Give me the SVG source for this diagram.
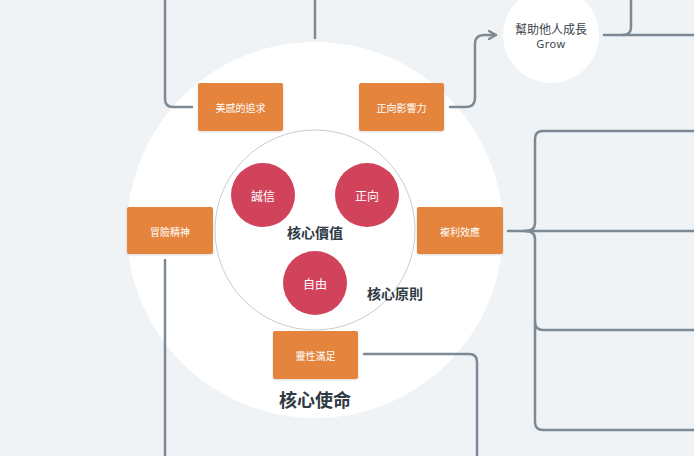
<svg xmlns="http://www.w3.org/2000/svg" width="694" height="456" viewBox="0 0 694 456">
<defs>
<style>
.bg{fill:#eff3f5}
.conn path{fill:none;stroke:#7d8994;stroke-width:2.5;stroke-linecap:round;stroke-linejoin:round}
.box{fill:#e5843e}
.btxt{font-family:"Noto Sans CJK TC","Noto Sans CJK SC",sans-serif;font-size:10px;fill:#ffffff;text-anchor:middle;dominant-baseline:central}
.red{fill:#d1435b}
.rtxt{font-family:"Noto Sans CJK TC","Noto Sans CJK SC",sans-serif;font-size:12px;fill:#ffffff;text-anchor:middle;dominant-baseline:central}
.lbl{font-family:"Noto Sans CJK TC","Noto Sans CJK SC",sans-serif;font-weight:bold;fill:#2f3a44;text-anchor:middle;dominant-baseline:central}
</style>
<marker id="arr" viewBox="0 0 10 10" refX="8" refY="5" markerWidth="4" markerHeight="4" orient="auto" markerUnits="strokeWidth">
<path d="M1,1 L8,5 L1,9" fill="none" stroke="#7d8994" stroke-width="2.2" stroke-linecap="round" stroke-linejoin="round"/>
</marker>
<filter id="sh" x="-10%" y="-10%" width="120%" height="130%">
<feDropShadow dx="0" dy="1" stdDeviation="1" flood-color="#000" flood-opacity="0.15"/>
</filter>
</defs>
<rect class="bg" x="0" y="0" width="694" height="456"/>
<g id="mission">
<circle cx="315" cy="230" r="188" fill="#ffffff"/>
<text class="lbl" x="315" y="399" font-size="18">核心使命</text>
</g>
<g id="principles">
<circle cx="315" cy="230" r="100" fill="#ffffff" stroke="#c9cdd0" stroke-width="1"/>
<text class="lbl" x="395" y="293" font-size="14">核心原則</text>
</g>
<g id="values">
<text class="lbl" x="315" y="232" font-size="14">核心價值</text>
</g>
<g class="conn" id="connectors">
<path d="M165,0 V99 Q165,107 173,107 H192"/>
<path d="M315,0 V38"/>
<path d="M450,107 H466 Q475,107 475,98 V44 Q475,35 484,35 H496" marker-end="url(#arr)"/>
<path d="M604,35 H694"/>
<path d="M631,0 V27 Q631,35 623,35"/>
<path d="M508,231 H694"/>
<path d="M525,231 Q535,231 535,223 V139 Q535,131 543,131 H694"/>
<path d="M525,231 Q535,231 535,239 V422 Q535,430 543,430 H694"/>
<path d="M535,322 Q535,330 543,330 H694"/>
<path d="M165,260 V456"/>
<path d="M364,354 H469 Q477,354 477,362 V456"/>
</g>
<g id="node-grow">
<circle cx="551" cy="35" r="48" fill="#ffffff"/>
<text x="551" y="28" font-family="'Noto Sans CJK TC','Noto Sans CJK SC',sans-serif" font-size="12" fill="#3a434c" text-anchor="middle" dominant-baseline="central">幫助他人成長</text>
<text x="551" y="43" font-family="'Noto Sans','DejaVu Sans',sans-serif" font-size="11" letter-spacing="0.5" fill="#3a434c" text-anchor="middle" dominant-baseline="central">Grow</text>
</g>
<g id="node-aesthetic">
<rect class="box" x="198" y="83" width="85" height="48" rx="2" filter="url(#sh)"/>
<text class="btxt" x="240.5" y="107">美感的追求</text>
</g>
<g id="node-influence">
<rect class="box" x="359" y="83" width="85" height="48" rx="2" filter="url(#sh)"/>
<text class="btxt" x="401.5" y="107">正向影響力</text>
</g>
<g id="node-adventure">
<rect class="box" x="127" y="207" width="86" height="47" rx="2" filter="url(#sh)"/>
<text class="btxt" x="170" y="231">冒險精神</text>
</g>
<g id="node-compound">
<rect class="box" x="417" y="207" width="86" height="47" rx="2" filter="url(#sh)"/>
<text class="btxt" x="460" y="231">複利效應</text>
</g>
<g id="node-spiritual">
<rect class="box" x="273" y="331" width="85" height="48" rx="2" filter="url(#sh)"/>
<text class="btxt" x="315.5" y="355">靈性滿足</text>
</g>
<g id="node-integrity">
<circle class="red" cx="263" cy="195" r="32"/>
<text class="rtxt" x="263" y="195">誠信</text>
</g>
<g id="node-positive">
<circle class="red" cx="367" cy="195" r="32"/>
<text class="rtxt" x="367" y="195">正向</text>
</g>
<g id="node-freedom">
<circle class="red" cx="315" cy="283" r="32"/>
<text class="rtxt" x="315" y="283">自由</text>
</g>
</svg>
